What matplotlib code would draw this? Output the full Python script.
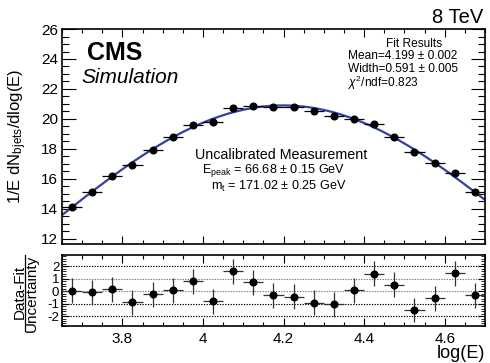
import numpy as np
import matplotlib
matplotlib.use("Agg")
import matplotlib.pyplot as plt
from matplotlib.ticker import MultipleLocator
from matplotlib.lines import Line2D

plt.rcParams['font.family'] = ['Liberation Sans', 'DejaVu Sans']
plt.rcParams['mathtext.fontset'] = 'custom'
plt.rcParams['mathtext.rm'] = 'Liberation Sans'
plt.rcParams['mathtext.it'] = 'Liberation Sans:italic'
plt.rcParams['mathtext.bf'] = 'Liberation Sans:bold'

# ---- data ----
bin_centers = [3.675, 3.725, 3.775, 3.825, 3.875, 3.925, 3.975, 4.025, 4.075, 4.125,
               4.175, 4.225, 4.275, 4.325, 4.375, 4.425, 4.475, 4.525, 4.575, 4.625, 4.675]
values = [14.12, 15.15, 16.2, 16.95, 17.92, 18.78, 19.6, 19.82, 20.71, 20.87,
          20.78, 20.78, 20.53, 20.22, 20.0, 19.64, 18.82, 17.76, 17.04, 16.38, 15.13]
residuals = [0.02, -0.08, 0.13, -0.88, -0.24, 0.08, 0.8, -0.8, 1.6, 0.72,
             -0.35, -0.45, -0.93, -1.04, 0.05, 1.41, 0.53, -1.52, -0.56, 1.44, -0.32]
fit_mean = 4.199
fit_width = 0.591
fit_amp = 20.9
bin_half_width = 0.025

fig = plt.figure(figsize=(4.9, 3.63), dpi=100)
ax = fig.add_axes([0.1265, 0.328, 0.8633, 0.592])
axr = fig.add_axes([0.1265, 0.102, 0.8633, 0.1955])

xlim = (3.65, 4.7)

# top panel
xx = np.linspace(xlim[0], xlim[1], 300)
ax.plot(xx, fit_amp * np.exp(-0.5 * ((xx - fit_mean) / fit_width) ** 2),
        color='#3340a0', lw=1.6, zorder=2)
ax.errorbar(bin_centers, values, xerr=bin_half_width, fmt='o', color='black',
            ms=4.8, elinewidth=0.9, capsize=0, zorder=3)
ax.set_xlim(*xlim)
ax.set_ylim(11.65, 26)
ax.yaxis.set_major_locator(MultipleLocator(2))
ax.yaxis.set_minor_locator(MultipleLocator(0.5))
ax.xaxis.set_major_locator(MultipleLocator(0.2))
ax.xaxis.set_minor_locator(MultipleLocator(0.05))
ax.tick_params(axis='both', which='both', direction='in', top=True, right=True)
ax.tick_params(axis='y', which='major', length=10, width=0.8, labelsize=11, pad=3)
ax.tick_params(axis='y', which='minor', length=5, width=0.8)
ax.tick_params(axis='x', which='major', length=6, width=0.8)
ax.tick_params(axis='x', which='minor', length=3, width=0.8)
ax.tick_params(axis='x', labelbottom=False)
for s in ax.spines.values():
    s.set_linewidth(1.2)
ax.set_ylabel(r'1/E dN$_{\mathrm{bjets}}$/dlog(E)', fontsize=12)
ax.yaxis.set_label_coords(-0.079, 0.5)

# top panel texts
ax.text(0.058, 0.856, 'CMS', transform=ax.transAxes, fontsize=18,
        fontweight='bold', va='baseline', ha='left')
ax.text(0.045, 0.749, 'Simulation', transform=ax.transAxes, fontsize=15,
        style='italic', va='baseline', ha='left')
fig.text(0.987, 0.937, '8 TeV', fontsize=14.5, ha='right', va='baseline')

fs_fit = 8.6
ax.text(0.832, 0.918, 'Fit Results', transform=ax.transAxes, fontsize=fs_fit,
        ha='center', va='baseline')
ax.text(0.676, 0.86, 'Mean=4.199 \u00b1 0.002', transform=ax.transAxes, fontsize=fs_fit,
        ha='left', va='baseline')
ax.text(0.676, 0.799, 'Width=0.591 \u00b1 0.005', transform=ax.transAxes, fontsize=fs_fit,
        ha='left', va='baseline')
ax.text(0.676, 0.73, r'$\chi^{2}$/ndf=0.823', transform=ax.transAxes, fontsize=fs_fit,
        ha='left', va='baseline')

ax.text(0.518, 0.394, 'Uncalibrated Measurement', transform=ax.transAxes, fontsize=10.3,
        ha='center', va='baseline')
ax.text(0.5, 0.33, r'E$_{\mathrm{peak}}$ = 66.68 $\pm$ 0.15 GeV', transform=ax.transAxes,
        fontsize=9.1, ha='center', va='baseline')
ax.text(0.512, 0.252, r'm$_{\mathrm{t}}$ = 171.02 $\pm$ 0.25 GeV', transform=ax.transAxes,
        fontsize=9.1, ha='center', va='baseline')

# residual panel
for yv in [-2, -1, 0, 1, 2]:
    axr.axhline(yv, color='black' if yv in (-2, -1, 2) else '#777777',
                lw=0.8, ls=(0, (1.2, 1.2)), zorder=1)
axr.errorbar(bin_centers, residuals, xerr=bin_half_width, yerr=1.0, fmt='o',
             color='black', ecolor='#333333', ms=4.8, elinewidth=0.9, capsize=0, zorder=3)
axr.set_xlim(*xlim)
axr.set_ylim(-2.8, 2.9)
axr.yaxis.set_minor_locator(MultipleLocator(0.2))
axr.xaxis.set_minor_locator(MultipleLocator(0.05))
axr.tick_params(axis='both', which='both', direction='in', top=True, right=True)
axr.tick_params(axis='y', which='major', length=5, width=0.8, labelsize=9.5, pad=2)
axr.tick_params(axis='y', which='minor', length=3, width=0.6)
axr.tick_params(axis='x', which='major', length=6, width=0.8, labelsize=11, pad=4)
axr.tick_params(axis='x', which='minor', length=3, width=0.8)
axr.set_yticks([-2, -1, 0, 1, 2])
axr.set_yticklabels(['-2', '-1', '0', '1', '2'])
axr.set_xticks([3.8, 4.0, 4.2, 4.4, 4.6])
axr.set_xticklabels(['3.8', '4', '4.2', '4.4', '4.6'])
for s in axr.spines.values():
    s.set_linewidth(1.2)

# fraction-style y label
fig.text(0.04, 0.197, 'Data-Fit', rotation=90, fontsize=11, ha='center', va='center')
fig.text(0.066, 0.193, 'Uncertainty', rotation=90, fontsize=11, ha='center', va='center')
fig.add_artist(Line2D([0.052, 0.052], [0.088, 0.298], transform=fig.transFigure,
                      color='black', lw=0.9))

fig.text(0.99, 0.013, 'log(E)', fontsize=13, ha='right', va='baseline')

fig.savefig('out.png', dpi=100)
